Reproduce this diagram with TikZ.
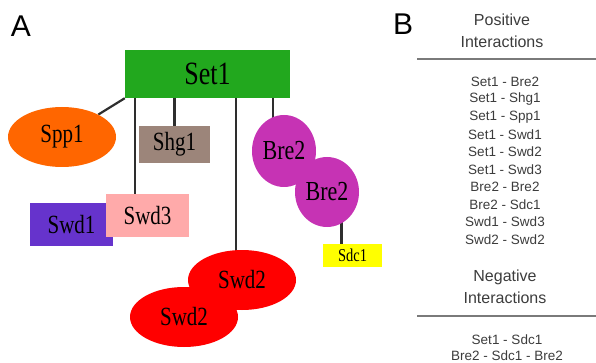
\documentclass[tikz,border=0pt]{standalone}
\usepackage{fontspec}
\setmainfont{Liberation Serif}
\newfontfamily\labsans{Liberation Sans}
\usetikzlibrary{shapes.geometric,backgrounds}
\definecolor{cset}{HTML}{22A81E}
\definecolor{cspp}{HTML}{FF6600}
\definecolor{cshg}{HTML}{9C857A}
\definecolor{cswdone}{HTML}{6633CC}
\definecolor{cswdthree}{HTML}{FFAAAA}
\definecolor{cswdtwo}{HTML}{FF0000}
\definecolor{cbre}{HTML}{C633B4}
\definecolor{csdc}{HTML}{FFFF00}
\definecolor{ctxt}{HTML}{3C3C3C}
\definecolor{crule}{HTML}{7A7A7A}
\definecolor{clink}{HTML}{2E2E2E}
\newcommand{\tallt}[1]{\scalebox{1}[1.25]{#1}}
\tikzset{
  prot/.style={draw=none, inner sep=0pt, text=black},
  boxp/.style={prot, rectangle},
  ovalp/.style={prot, ellipse},
  link/.style={draw=clink, line width=2.2pt},
  panel/.style={font=\labsans\fontsize{30}{30}\selectfont, inner sep=0pt},
  head/.style={font=\labsans\fontsize{16}{22}\selectfont, text=ctxt, align=center, inner sep=0pt},
  item/.style={font=\labsans\fontsize{13.5}{16}\selectfont, text=ctxt, inner sep=0pt},
  sep/.style={draw=crule, line width=2pt}
}
\begin{document}
\begin{tikzpicture}[x=1pt,y=-1pt]
\useasboundingbox (0,0) rectangle (596,363);
% panel A
\node[panel] (labA) at (21,26) {A};
\node[boxp, fill=cset, minimum width=165pt, minimum height=48pt,
  font=\fontsize{26}{26}\selectfont] (set1) at (207.5,74) {\tallt{Set1}};
\node[ovalp, fill=cspp, minimum width=108pt, minimum height=60pt,
  font=\fontsize{21}{21}\selectfont] (spp1) at (62,137) {\tallt{Spp1}};
\node[boxp, fill=cshg, minimum width=71pt, minimum height=37pt,
  font=\fontsize{21}{21}\selectfont] (shg1) at (174.5,144.5) {\tallt{Shg1}};
\node[boxp, fill=cswdone, minimum width=83pt, minimum height=43pt,
  font=\fontsize{21}{21}\selectfont] (swd1) at (71.5,224.5) {\tallt{Swd1}};
\node[boxp, fill=cswdthree, minimum width=83pt, minimum height=43pt,
  font=\fontsize{21}{21}\selectfont] (swd3) at (147.5,215.5) {\tallt{Swd3}};
\node[ovalp, fill=cswdtwo, minimum width=108pt, minimum height=60pt,
  font=\fontsize{21}{21}\selectfont] (swd2a) at (242,280) {\tallt{Swd2}};
\node[ovalp, fill=cswdtwo, minimum width=108pt, minimum height=60pt,
  font=\fontsize{21}{21}\selectfont] (swd2b) at (184,317) {\tallt{Swd2}};
\node[ovalp, fill=cbre, minimum width=64pt, minimum height=72pt,
  font=\fontsize{22}{22}\selectfont] (bre2a) at (284,151) {\tallt{Bre2}};
\node[ovalp, fill=cbre, minimum width=64pt, minimum height=70pt,
  font=\fontsize{22}{22}\selectfont] (bre2b) at (327,192) {\tallt{Bre2}};
\node[boxp, fill=csdc, minimum width=59pt, minimum height=23pt,
  font=\fontsize{14.5}{14.5}\selectfont] (sdc1) at (352.5,255.5) {\tallt{Sdc1}};
\begin{scope}[on background layer]
  \draw[link] (set1.south west) -- (spp1);
  \draw[link] (shg1.north |- set1.south) -- (shg1.center);
  \draw[link] ([xshift=10pt]set1.south west) -- ([xshift=10pt]set1.south west |- swd3.center);
  \draw[link] ([xshift=-6pt]swd2a.north |- set1.south) -- ([xshift=-6pt]swd2a.center);
  \draw[link] ([xshift=-11pt]bre2a.north |- set1.south) -- ([xshift=-11pt]bre2a.center);
  \draw[link] ([xshift=-11pt]sdc1.center) -- ([xshift=-11pt]sdc1.north |- bre2b.center);
\end{scope}
% panel B
\node[panel] (labB) at (403,24) {B};
\node[head] (poshead) at (502,31) {Positive\\Interactions};
\coordinate (posL) at (417,59);
\coordinate (posR) at (596,59);
\draw[sep] (posL) -- (posR);
\foreach \t [count=\i] in {Set1 - Bre2, Set1 - Shg1, Set1 - Spp1, Set1 - Swd1, Set1 - Swd2, Set1 - Swd3, Bre2 - Bre2, Bre2 - Sdc1, Swd1 - Swd3, Swd2 - Swd2}
  \node[item] (pos\i) at (505,{82+(\i-1)*17.5}) {\t};
\node[head] (neghead) at (505,287) {Negative\\Interactions};
\coordinate (negL) at (417,316);
\coordinate (negR) at (596,316);
\draw[sep] (negL) -- (negR);
\node[item] (neg1) at (507,339.5) {Set1 - Sdc1};
\node[item] (neg2) at (507,355.5) {Bre2 - Sdc1 - Bre2};
\end{tikzpicture}
\end{document}
